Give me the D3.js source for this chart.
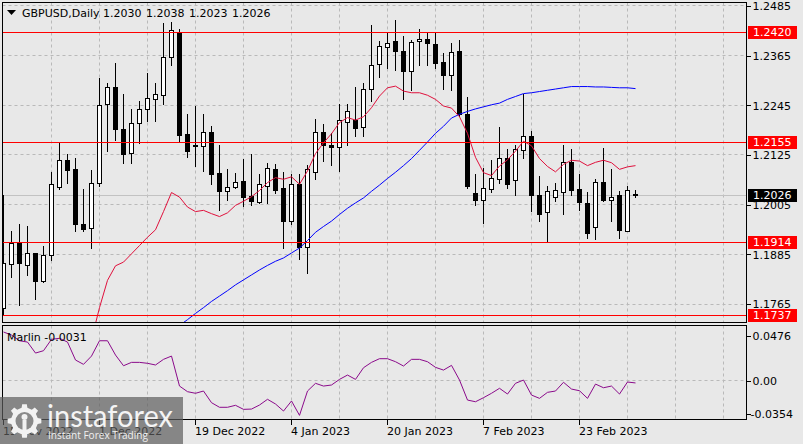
<!DOCTYPE html>
<html><head><meta charset="utf-8">
<script src="https://cdn.jsdelivr.net/npm/d3@7"></script>
<style>
html,body{margin:0;padding:0;background:#e8e8e8;}
svg{display:block;font-family:"DejaVu Sans",sans-serif;}
</style>
</head><body>
<svg id="chart" width="803" height="444"></svg>
<script>
// ---------- DATA ----------
const symbolTitle = "GBPUSD,Daily";
const titleValues = ["1.2030", "1.2038", "1.2023", "1.2026"];
const openP  = [1.1753,1.1861,1.1912,1.1857,1.1886,1.1819,1.1883,1.2047,1.2111,1.2089,
                1.1956,1.1948,1.2057,1.2248,1.2289,1.2187,1.2129,1.2202,1.2234,1.2260,
                1.2268,1.2361,1.2421,1.2175,1.2145,1.2145,1.2180,1.2079,1.2036,1.2047,
                1.2060,1.2024,1.2011,1.2048,1.2091,1.2045,1.1964,1.2053,1.1902,1.2083,
                1.2180,1.2149,1.2144,1.2204,1.2207,1.2192,1.2284,1.2344,1.2385,1.2399,
                1.2376,1.2326,1.2399,1.2405,1.2391,1.2348,1.2317,1.2375,1.2222,1.2031,
                1.2016,1.2042,1.2066,1.2117,1.2063,1.2135,1.2169,1.2028,1.1986,1.2022,
                1.2035,1.2107,1.2042,1.2008,1.1950,1.2059,1.2016,1.2026,1.1940,1.2030];
const highP  = [1.2028,1.1941,1.1958,1.1952,1.1888,1.1904,1.2082,1.2155,1.2127,1.2117,
                1.2042,1.2087,1.2310,1.2298,1.2345,1.2270,1.2234,1.2254,1.2322,1.2298,
                1.2443,1.2446,1.2427,1.2222,1.2242,1.2222,1.2193,1.2148,1.2089,1.2079,
                1.2113,1.2125,1.2077,1.2105,1.2103,1.2083,1.2077,1.2077,1.2099,1.2210,
                1.2198,1.2177,1.2246,1.2246,1.2289,1.2298,1.2437,1.2399,1.2419,1.2449,
                1.2411,1.2401,1.2429,1.2419,1.2419,1.2371,1.2395,1.2401,1.2263,1.2077,
                1.2093,1.2111,1.2192,1.2137,1.2147,1.2270,1.2181,1.2074,1.2048,1.2055,
                1.2147,1.2137,1.2077,1.2034,1.2065,1.2141,1.2089,1.2036,1.2048,1.2038];
const lowP   = [1.1738,1.1829,1.1761,1.1835,1.1775,1.1817,1.1870,1.2042,1.2057,1.1941,
                1.1940,1.1900,1.2048,1.2133,1.2160,1.2105,1.2105,1.2153,1.2206,1.2206,
                1.2246,1.2341,1.2157,1.2119,1.2097,1.2085,1.2054,1.1990,1.2016,1.2043,
                1.2000,1.2002,1.2008,1.2008,1.2032,1.1900,1.1956,1.1873,1.1839,1.2065,
                1.2109,1.2099,1.2085,1.2149,1.2169,1.2169,1.2254,1.2312,1.2335,1.2330,
                1.2260,1.2280,1.2342,1.2342,1.2335,1.2282,1.2280,1.2217,1.2043,1.2004,
                1.1960,1.2034,1.2055,1.2045,1.2028,1.2117,1.1988,1.1964,1.1914,1.2012,
                1.1982,1.2026,1.1992,1.1924,1.1920,1.2012,1.1964,1.1922,1.1939,1.2023];
const closeP = [1.1864,1.1912,1.1862,1.1886,1.1819,1.1883,1.2053,1.2111,1.2087,1.1957,
                1.1944,1.2057,1.2245,1.2289,1.2187,1.2127,1.2202,1.2234,1.2262,1.2270,
                1.2361,1.2425,1.2173,1.2133,1.2149,1.2180,1.2078,1.2036,1.2046,1.2058,
                1.2022,1.2012,1.2053,1.2093,1.2040,1.1964,1.2053,1.1902,1.2091,1.2180,
                1.2147,1.2144,1.2207,1.2230,1.2190,1.2284,1.2342,1.2387,1.2395,1.2375,
                1.2326,1.2397,1.2405,1.2393,1.2347,1.2317,1.2372,1.2222,1.2048,1.2015,
                1.2045,1.2069,1.2117,1.2053,1.2137,1.2169,1.2028,1.1982,1.2036,1.2038,
                1.2107,1.2040,1.2010,1.1936,1.2059,1.2016,1.2023,1.1942,1.2039,1.2026];
// fast moving average (red), first value belongs to bar 11
const maFastStart = 11;
const maFast = [1.1678,1.1755,1.1821,1.1856,1.1865,1.1885,1.1905,1.1925,1.1943,1.1987,
                1.2033,1.2022,1.1998,1.1987,1.1990,1.1982,1.1975,1.1984,1.2002,1.2012,
                1.2023,1.2038,1.2057,1.2069,1.2065,1.2071,1.2053,1.2085,1.2127,1.2153,
                1.2175,1.2202,1.2214,1.2208,1.2216,1.2238,1.2266,1.2286,1.2290,1.2278,
                1.2274,1.2274,1.2268,1.2258,1.2242,1.2237,1.2216,1.2176,1.2118,1.2081,
                1.2074,1.2097,1.2112,1.2133,1.2157,1.2146,1.2115,1.2096,1.2083,1.2101,
                1.2111,1.2109,1.2098,1.2106,1.2111,1.2105,1.2089,1.2095,1.2098];
// slow moving average (blue), first value belongs to bar 22
const maSlowStart = 22;
const maSlow = [1.1712,1.1726,1.1741,1.1755,1.1770,1.1783,1.1796,1.1810,1.1822,1.1834,
                1.1846,1.1857,1.1867,1.1875,1.1887,1.1899,1.1917,1.1937,1.1951,1.1964,
                1.1980,1.1995,1.2008,1.2020,1.2036,1.2051,1.2067,1.2082,1.2098,1.2115,
                1.2135,1.2155,1.2176,1.2193,1.2213,1.2222,1.2229,1.2235,1.2240,1.2245,
                1.2249,1.2258,1.2265,1.2272,1.2274,1.2277,1.2280,1.2283,1.2286,1.2289,
                1.2289,1.2289,1.2288,1.2288,1.2287,1.2286,1.2286,1.2284];
const marlin = [0.0511,0.0479,0.0418,0.0404,0.0287,0.0312,0.0433,0.0444,0.0404,0.0213,
                0.0167,0.0255,0.0418,0.0418,0.0266,0.0152,0.0188,0.0188,0.0178,0.0160,
                0.0220,0.0255,-0.0064,-0.0124,-0.0141,-0.0117,-0.0241,-0.0290,-0.0290,-0.0269,
                -0.0312,-0.0309,-0.0266,-0.0205,-0.0255,-0.0330,-0.0223,-0.0376,-0.0117,-0.0035,
                -0.0064,-0.0053,0.0007,0.0053,0.0007,0.0131,0.0188,0.0227,0.0227,0.0195,
                0.0149,0.0220,0.0220,0.0195,0.0135,0.0106,0.0156,0.0000,-0.0213,-0.0231,
                -0.0188,-0.0141,-0.0088,-0.0149,-0.0035,0.0000,-0.0160,-0.0195,-0.0131,-0.0117,
                -0.0024,-0.0096,-0.0114,-0.0195,-0.0043,-0.0082,-0.0064,-0.0149,-0.0021,-0.0031];
const priceTicks = [1.2485,1.2365,1.2245,1.2125,1.2005,1.1885,1.1765];
const levelLines = [1.2420,1.2155,1.1914,1.1737];
const lastPrice = 1.2026;
const marlinTicks = [0.0476, 0, -0.0354];
const marlinTickLabels = ["0.0476", "0.00", "-0.0354"];
const marlinLabel = "Marlin -0.0031";
const dateLabels = ["15 Nov 2022","1 Dec 2022","19 Dec 2022","4 Jan 2023","20 Jan 2023","7 Feb 2023","23 Feb 2023"];
const dateLabelBars = [0,12,24,36,48,60,72];

// ---------- LAYOUT ----------
const svg = d3.select("#chart");
const L = 2.5, R = 746.5, T = 2.5, B = 322.5, IT = 325.5, IB = 419.5;
const x = d3.scaleLinear().domain([0, 93]).range([3, 747]);
const y = d3.scaleLinear().domain([1.1765, 1.2485]).range([303.5, 5.4]);
const ym = d3.scaleLinear().domain([-0.0354, 0.0476]).range([413.3, 335.3]);
const px = i => Math.round(x(i));
const bg = "#e8e8e8";

svg.append("rect").attr("width",803).attr("height",444).attr("fill",bg);

const defs = svg.append("defs");
defs.append("clipPath").attr("id","clipMain").append("rect")
  .attr("x",L+0.5).attr("y",T+0.5).attr("width",R-L-1).attr("height",B-T-1);
defs.append("clipPath").attr("id","clipInd").append("rect")
  .attr("x",L+0.5).attr("y",IT+0.5).attr("width",R-L-1).attr("height",IB-IT-1);

const gridColor = "#b9b9b9";
// vertical grid
const vgrid = d3.range(6, 91, 6);
svg.append("g").selectAll("line").data(vgrid).join("line")
  .attr("x1", d => px(d)+0.5).attr("x2", d => px(d)+0.5)
  .attr("y1", T).attr("y2", B)
  .attr("stroke", gridColor).attr("stroke-dasharray","3,3");
svg.append("g").selectAll("line").data(vgrid).join("line")
  .attr("x1", d => px(d)+0.5).attr("x2", d => px(d)+0.5)
  .attr("y1", IT).attr("y2", IB)
  .attr("stroke", gridColor).attr("stroke-dasharray","3,3");
// horizontal grid
svg.append("g").selectAll("line").data(priceTicks).join("line")
  .attr("x1", L).attr("x2", R)
  .attr("y1", d => Math.round(y(d))+0.5).attr("y2", d => Math.round(y(d))+0.5)
  .attr("stroke", gridColor).attr("stroke-dasharray","3,3");
svg.append("line").attr("x1",L).attr("x2",R)
  .attr("y1", Math.round(ym(0))+0.5).attr("y2", Math.round(ym(0))+0.5)
  .attr("stroke", gridColor).attr("stroke-dasharray","3,3");

// current price line
svg.append("line").attr("x1",L).attr("x2",R)
  .attr("y1", Math.round(y(lastPrice))+0.5).attr("y2", Math.round(y(lastPrice))+0.5)
  .attr("stroke","#c2c2c2");

// ---------- CANDLES ----------
const bars = openP.map((o,i)=>({i, o, h: highP[i], l: lowP[i], c: closeP[i]}));
const gMain = svg.append("g").attr("clip-path","url(#clipMain)");
const gc = gMain.append("g").attr("shape-rendering","crispEdges");
gc.selectAll("line.wick").data(bars).join("line").attr("class","wick")
  .attr("x1", d => px(d.i)+0.5).attr("x2", d => px(d.i)+0.5)
  .attr("y1", d => Math.round(y(d.h))).attr("y2", d => Math.round(y(d.l))+1)
  .attr("stroke","#000");
gc.selectAll("rect.body").data(bars).join("rect").attr("class","body")
  .attr("x", d => px(d.i)-1.5).attr("width", 4)
  .attr("y", d => Math.round(y(Math.max(d.o,d.c)))+0.5)
  .attr("height", d => Math.max(1, Math.round(y(Math.min(d.o,d.c))) - Math.round(y(Math.max(d.o,d.c)))))
  .attr("fill", d => d.c >= d.o ? "#ffffff" : "#000000")
  .attr("stroke","#000");

// moving averages
const lineMain = d3.line().x(d => x(d.i)+0.5).y(d => y(d.v));
gMain.append("path").datum(maSlow.map((v,k)=>({i:k+maSlowStart, v})))
  .attr("d", lineMain).attr("fill","none").attr("stroke","#0000ff").attr("stroke-width",1);
gMain.append("path").datum(maFast.map((v,k)=>({i:k+maFastStart, v})))
  .attr("d", lineMain).attr("fill","none").attr("stroke","#e0103c").attr("stroke-width",1);

// horizontal levels
gMain.append("g").attr("shape-rendering","crispEdges").selectAll("line").data(levelLines).join("line")
  .attr("x1", L).attr("x2", R)
  .attr("y1", d => Math.round(y(d))+0.5).attr("y2", d => Math.round(y(d))+0.5)
  .attr("stroke","#ff0000");

// ---------- INDICATOR ----------
const gInd = svg.append("g").attr("clip-path","url(#clipInd)");
gInd.append("path").datum(marlin.map((v,i)=>({i, v})))
  .attr("d", d3.line().x(d => x(d.i)+0.5).y(d => ym(d.v)))
  .attr("fill","none").attr("stroke","#8b0a8b").attr("stroke-width",1);

// frames
const frames = svg.append("g").attr("shape-rendering","crispEdges");
frames.append("rect").attr("x",L).attr("y",T).attr("width",R-L).attr("height",B-T)
  .attr("fill","none").attr("stroke","#000");
frames.append("rect").attr("x",L).attr("y",IT).attr("width",R-L).attr("height",IB-IT)
  .attr("fill","none").attr("stroke","#000");

// ---------- AXES ----------
const axisFont = 11;
const yAxis = d3.axisRight(y).tickValues(priceTicks).tickFormat(d3.format(".4f")).tickSize(4).tickPadding(2);
const ga = svg.append("g").attr("transform",`translate(${R},0.5)`).call(yAxis);
ga.select(".domain").remove();
ga.selectAll("text").attr("font-size",axisFont).attr("font-family","DejaVu Sans").attr("fill","#000").attr("dy","0.36em");
ga.selectAll("line").attr("stroke","#000").attr("shape-rendering","crispEdges");

const mAxis = d3.axisRight(ym).tickValues(marlinTicks).tickFormat((d,k)=>marlinTickLabels[k]).tickSize(4).tickPadding(2);
const gm = svg.append("g").attr("transform",`translate(${R},0.5)`).call(mAxis);
gm.select(".domain").remove();
gm.selectAll("text").attr("font-size",axisFont).attr("font-family","DejaVu Sans").attr("fill","#000").attr("dy","0.36em")
  .attr("dx", (d,k) => marlinTickLabels[k].startsWith("-") ? -2 : 0);
gm.selectAll("line").attr("stroke","#000").attr("shape-rendering","crispEdges");

// x axis
const gx = svg.append("g");
gx.selectAll("line").data(dateLabelBars).join("line")
  .attr("x1", d => px(d)+0.5).attr("x2", d => px(d)+0.5)
  .attr("y1", IB).attr("y2", IB+5).attr("stroke","#000").attr("shape-rendering","crispEdges");
gx.selectAll("text").data(dateLabelBars).join("text")
  .attr("x", d => px(d)).attr("y", 435)
  .attr("font-size",axisFont).attr("fill","#000")
  .text((d,k) => dateLabels[k]);

// level labels
const lbl = svg.append("g");
const boxes = levelLines.map(v => ({v, txt: v.toFixed(4), fill: "#ff0000"}))
  .concat([{v: lastPrice, txt: lastPrice.toFixed(4), fill: "#000000"}]);
lbl.selectAll("rect").data(boxes).join("rect")
  .attr("x", 748).attr("y", d => Math.round(y(d.v)) - 6)
  .attr("width", 49).attr("height", 13).attr("fill", d => d.fill);
lbl.selectAll("text").data(boxes).join("text")
  .attr("x", 753).attr("y", d => Math.round(y(d.v)) + 0.5).attr("dy","0.36em")
  .attr("font-size",axisFont).attr("fill","#fff").text(d => d.txt);

// title
svg.append("path").attr("d","M7,10 L16,10 L11.5,15 Z").attr("fill","#000");
svg.append("text").attr("x",22).attr("y",17).attr("font-size",axisFont).attr("fill","#000").text(symbolTitle);
titleValues.forEach((t,k) => {
  svg.append("text").attr("x",103 + k*43).attr("y",17).attr("font-size",axisFont).attr("fill","#000").text(t);
});
svg.append("text").attr("x",7).attr("y",340.5).attr("font-size",axisFont).attr("fill","#000").text(marlinLabel);

// ---------- WATERMARK ----------
const wm = svg.append("g");
wm.append("rect").attr("x",0).attr("y",397).attr("width",183).attr("height",47)
  .attr("fill","#5c5c5c").attr("opacity",0.7);
// gear icon
const gcx = 24.5, gcy = 421, teeth = 8, rOut = 17, rIn = 13.5;
const gearPts = [];
for (let k = 0; k < teeth; k++) {
  const a0 = (k / teeth) * 2 * Math.PI;
  const w = Math.PI / teeth;
  [[a0 - w*0.55, rIn],[a0 - w*0.35, rOut],[a0 + w*0.35, rOut],[a0 + w*0.55, rIn]].forEach(([a,r]) => {
    gearPts.push([gcx + r*Math.sin(a), gcy - r*Math.cos(a)]);
  });
}
wm.append("path").attr("d", d3.line()(gearPts) + "Z").attr("fill","#f2f2f2");
wm.append("circle").attr("cx",gcx).attr("cy",gcy).attr("r",9).attr("fill","#8a8a8a");
wm.append("circle").attr("cx",gcx).attr("cy",gcy-4).attr("r",3).attr("fill","#f2f2f2");
wm.append("rect").attr("x",gcx-2).attr("y",gcy-1).attr("width",4).attr("height",12).attr("fill","#f2f2f2");
wm.append("text").attr("x",47).attr("y",427).attr("font-family","Lato, 'Open Sans', sans-serif")
  .attr("font-size",31).attr("fill","#f4f4f4").attr("textLength",126).attr("lengthAdjust","spacingAndGlyphs")
  .text("instaforex");
wm.append("text").attr("x",48).attr("y",439).attr("font-family","'Open Sans', sans-serif")
  .attr("font-size",10.5).attr("fill","#f0f0f0").attr("textLength",100).attr("lengthAdjust","spacingAndGlyphs")
  .text("Instant Forex Trading");
</script>
</body></html>
